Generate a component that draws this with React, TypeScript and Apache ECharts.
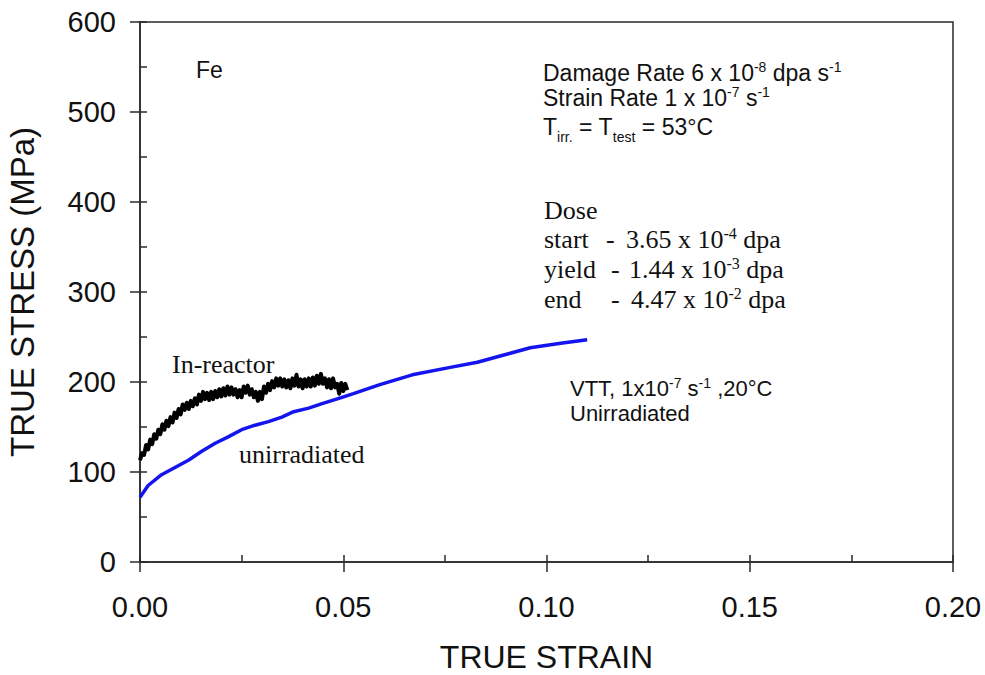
import React, { useEffect, useRef } from "react";
import * as echarts from "echarts";

// ---- data ----
const xTicks = [0, 0.05, 0.1, 0.15, 0.2];
const yTicks = [0, 100, 200, 300, 400, 500, 600];

const unirrStrain = [0, 0.002, 0.0053, 0.0086, 0.0119, 0.0152, 0.0185, 0.0217, 0.025, 0.0283, 0.0316, 0.0349, 0.0378, 0.0415, 0.0448, 0.0497, 0.0525, 0.059, 0.067, 0.076, 0.083, 0.0895, 0.096, 0.1035, 0.11];
const unirrStress = [72, 85, 97, 105, 113, 123, 132, 139, 147, 152, 156, 161, 167, 171, 176, 183, 187, 197, 208, 216, 222, 230, 238, 243, 247];

// in-reactor curve, read every 0.0005 strain (noisy trace)
const reactorStrain = [
  0.0, 0.0005, 0.001, 0.0015, 0.002, 0.0025, 0.003, 0.0035, 0.004, 0.0045,
  0.005, 0.0055, 0.006, 0.0065, 0.007, 0.0075, 0.008, 0.0085, 0.009, 0.0095,
  0.01, 0.0105, 0.011, 0.0115, 0.012, 0.0125, 0.013, 0.0135, 0.014, 0.0145,
  0.015, 0.0155, 0.016, 0.0165, 0.017, 0.0175, 0.018, 0.0185, 0.019, 0.0195,
  0.02, 0.0205, 0.021, 0.0215, 0.022, 0.0225, 0.023, 0.0235, 0.024, 0.0245,
  0.025, 0.0255, 0.026, 0.0265, 0.027, 0.0275, 0.028, 0.0285, 0.029, 0.0295,
  0.03, 0.0305, 0.031, 0.0315, 0.032, 0.0325, 0.033, 0.0335, 0.034, 0.0345,
  0.035, 0.0355, 0.036, 0.0365, 0.037, 0.0375, 0.038, 0.0385, 0.039, 0.0395,
  0.04, 0.0405, 0.041, 0.0415, 0.042, 0.0425, 0.043, 0.0435, 0.044, 0.0445,
  0.045, 0.0455, 0.046, 0.0465, 0.047, 0.0475, 0.048, 0.0485, 0.049, 0.0495,
  0.05, 0.0505, 0.051,
];
const reactorStress = [
  113, 121, 119, 130, 125, 136, 131, 142, 137, 147,
  142, 153, 147, 157, 151, 161, 155, 166, 160, 170,
  164, 175, 169, 177, 170, 179, 173, 182, 175, 186,
  179, 189, 181, 188, 180, 189, 181, 190, 183, 192,
  184, 193, 185, 195, 186, 194, 186, 192, 183, 191,
  183, 195, 188, 196, 186, 192, 183, 189, 179, 189,
  181, 195, 188, 198, 191, 201, 194, 204, 196, 204,
  195, 203, 194, 202, 193, 204, 196, 208, 195, 203,
  193, 203, 195, 204, 195, 205, 196, 207, 198, 209,
  198, 204, 194, 203, 193, 204, 194, 198, 187, 199,
  190, 198, 191,
];

const ARIAL = "'Liberation Sans', Arial, sans-serif";
const TIMES = "'Liberation Serif', 'Times New Roman', serif";
const INK = "#111";

type Part = [string, string];

function nb(t: string) {
  return t.replace(/^ /, "\u00a0").replace(/ $/, "\u00a0");
}

function richText(x: number, y: number, parts: Part[], family: string, size: number, supSize: number, lh: number) {
  return {
    type: "text",
    x,
    y,
    silent: true,
    style: {
      text: parts.map(([k, t]) => `{${k}|${nb(t)}}`).join(""),
      align: "left",
      verticalAlign: "middle",
      rich: {
        n: { fontFamily: family, fontSize: size, lineHeight: lh, verticalAlign: "middle", fill: INK },
        p: { fontFamily: family, fontSize: supSize, lineHeight: supSize, verticalAlign: "top", fill: INK },
        b: { fontFamily: family, fontSize: supSize, lineHeight: supSize, verticalAlign: "bottom", fill: INK },
      },
    },
  };
}

function plainText(x: number, y: number, text: string, family: string, size: number) {
  return {
    type: "text",
    x,
    y,
    silent: true,
    style: { text, fontFamily: family, fontSize: size, fill: INK, align: "left", verticalAlign: "middle" },
  };
}

export default function App() {
  const ref = useRef<HTMLDivElement>(null);
  useEffect(() => {
    if (!ref.current) return;
    const chart = echarts.init(ref.current, undefined, { renderer: "svg" });
    const axisColor = "#2a2a2a";
    const option = {
      animation: false,
      backgroundColor: "#fff",
      grid: {
        left: 140,
        right: 32,
        top: 22,
        bottom: 113,
        outerBoundsMode: "none",
        containLabel: false,
        show: true,
        borderColor: axisColor,
        borderWidth: 1.5,
        backgroundColor: "transparent",
      },
      xAxis: [
        {
          type: "value",
          min: xTicks[0],
          max: xTicks[xTicks.length - 1],
          interval: 0.05,
          position: "bottom",
          name: "TRUE STRAIN",
          nameLocation: "middle",
          nameGap: 79,
          nameTextStyle: { fontFamily: ARIAL, fontSize: 32, lineHeight: 32, color: INK },
          axisLine: { show: true, lineStyle: { color: axisColor, width: 1.5 } },
          axisTick: { show: true, inside: false, length: 10, lineStyle: { color: axisColor, width: 1.5 } },
          axisLabel: {
            fontFamily: ARIAL,
            fontSize: 29,
            color: INK,
            margin: 30,
            formatter: (v: number) => v.toFixed(2),
          },
          splitLine: { show: false },
        },
        {
          type: "value",
          min: 0,
          max: 0.2,
          interval: 0.025,
          position: "bottom",
          offset: 0,
          axisLine: { show: false },
          axisTick: { show: true, inside: true, length: 7, lineStyle: { color: axisColor, width: 1.5 } },
          axisLabel: { show: false },
          splitLine: { show: false },
        },
      ],
      yAxis: [
        {
          type: "value",
          min: yTicks[0],
          max: yTicks[yTicks.length - 1],
          interval: 100,
          position: "left",
          name: "TRUE STRESS (MPa)",
          nameLocation: "middle",
          nameGap: 101,
          nameRotate: 90,
          nameTextStyle: { fontFamily: ARIAL, fontSize: 33, color: INK },
          axisLine: { show: true, lineStyle: { color: axisColor, width: 1.5 } },
          axisTick: { show: true, inside: false, length: 10, lineStyle: { color: axisColor, width: 1.5 } },
          axisLabel: { fontFamily: ARIAL, fontSize: 29, color: INK, margin: 24 },
          splitLine: { show: false },
        },
        {
          type: "value",
          min: 0,
          max: 600,
          interval: 50,
          position: "left",
          offset: 0,
          axisLine: { show: false },
          axisTick: { show: true, inside: true, length: 7, lineStyle: { color: axisColor, width: 1.5 } },
          axisLabel: { show: false },
          splitLine: { show: false },
        },
      ],
      series: [
        {
          name: "In-reactor",
          type: "line",
          xAxisIndex: 0,
          yAxisIndex: 0,
          showSymbol: false,
          symbol: "none",
          lineStyle: { color: "#000", width: 4, join: "round" },
          data: reactorStrain.map((s, i) => [s, reactorStress[i]]),
          z: 3,
        },
        {
          name: "unirradiated",
          type: "line",
          xAxisIndex: 0,
          yAxisIndex: 0,
          showSymbol: false,
          symbol: "none",
          lineStyle: { color: "#1414ee", width: 3.5 },
          data: unirrStrain.map((s, i) => [s, unirrStress[i]]),
          z: 4,
        },
      ],
      graphic: [
        plainText(196, 70, "Fe", ARIAL, 23),
        richText(543, 72.5, [["n", "Damage Rate 6 x 10"], ["p", "-8"], ["n", " dpa s"], ["p", "-1"]], ARIAL, 23, 14, 25),
        richText(543, 97.5, [["n", "Strain Rate 1 x 10"], ["p", "-7"], ["n", " s"], ["p", "-1"]], ARIAL, 23, 14, 25),
        richText(543, 126.5, [["n", "T"], ["b", "irr."], ["n", " = T"], ["b", "test"], ["n", " = 53°C"]], ARIAL, 23, 14, 34),
        plainText(544, 210.5, "Dose", TIMES, 26),
        plainText(544, 239.5, "start", TIMES, 26),
        plainText(606, 239.5, "-", TIMES, 26),
        richText(626, 239.5, [["n", "3.65 x 10"], ["p", "-4"], ["n", " dpa"]], TIMES, 26, 16, 29),
        plainText(544, 269.5, "yield", TIMES, 26),
        plainText(611, 269.5, "-", TIMES, 26),
        richText(629, 269.5, [["n", "1.44 x 10"], ["p", "-3"], ["n", " dpa"]], TIMES, 26, 16, 29),
        plainText(544, 299.5, "end", TIMES, 26),
        plainText(611, 299.5, "-", TIMES, 26),
        richText(631, 299.5, [["n", "4.47 x 10"], ["p", "-2"], ["n", " dpa"]], TIMES, 26, 16, 29),
        plainText(172, 364, "In-reactor", TIMES, 26),
        plainText(239, 454.5, "unirradiated", TIMES, 26),
        richText(570, 388.5, [["n", "VTT, 1x10"], ["p", "-7"], ["n", " s"], ["p", "-1"], ["n", " ,20°C"]], ARIAL, 22, 14, 25),
        plainText(570, 413.5, "Unirradiated", ARIAL, 22),
      ],
    };
    chart.setOption(option as any);
    return () => chart.dispose();
  }, []);
  return (
    <div
      ref={ref}
      style={{ position: "absolute", left: 0, top: 0, width: 985, height: 675, background: "#fff" }}
    />
  );
}
